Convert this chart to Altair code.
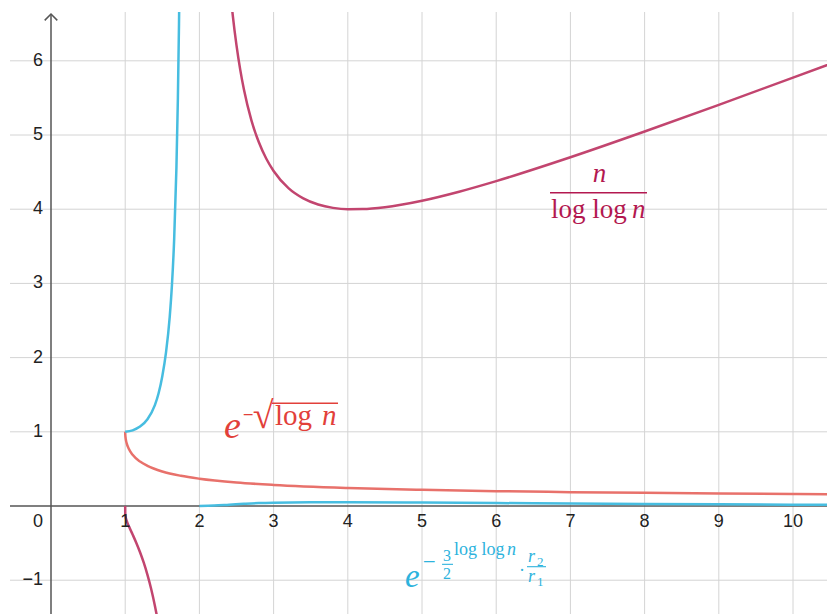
import altair as alt
import pandas as pd

# ---------------- data ----------------
# n / log log n  (two branches)
crim_a_n = [1.0, 1.0001, 1.001, 1.005, 1.02, 1.05, 1.1, 1.15, 1.2, 1.25, 1.3, 1.35, 1.4, 1.45, 1.5]
crim_a_y = [0.0, -0.078, -0.106, -0.141, -0.199, -0.274, -0.384, -0.498, -0.623, -0.764, -0.928,
            -1.118, -1.343, -1.612, -1.939]
crim_b_n = [2.3, 2.35, 2.4, 2.45, 2.5, 2.55, 2.6, 2.7, 2.8, 2.9, 3.0, 3.2, 3.4, 3.6, 3.8, 4.0, 4.2,
            4.5, 5.0, 5.5, 6.0, 7.0, 8.0, 9.0, 10.0, 10.6]
crim_b_y = [8.68, 7.787, 7.12, 6.61, 6.208, 5.881, 5.613, 5.201, 4.905, 4.683, 4.515, 4.284, 4.146,
            4.063, 4.018, 4.0, 4.0015, 4.026, 4.114, 4.236, 4.379, 4.700, 5.047, 5.407, 5.773, 5.995]
# e^{-sqrt(log n)}
red_n = [1.0, 1.0001, 1.001, 1.005, 1.01, 1.02, 1.05, 1.1, 1.2, 1.3, 1.5, 1.75, 2.0, 2.5, 3.0, 4.0,
         5.0, 6.0, 7.0, 8.0, 9.0, 10.0, 10.6]
red_y = [1.0, 0.988, 0.963, 0.919, 0.887, 0.845, 0.767, 0.690, 0.599, 0.541, 0.465, 0.407, 0.368,
         0.317, 0.284, 0.243, 0.218, 0.200, 0.187, 0.177, 0.169, 0.162, 0.158]
# cyan curves
cyan_up_n = [1.0, 1.1, 1.2, 1.3, 1.4, 1.45, 1.5, 1.55, 1.6, 1.63, 1.66, 1.69, 1.71, 1.725, 1.74]
cyan_up_y = [1.0, 1.02, 1.07, 1.17, 1.36, 1.52, 1.75, 2.07, 2.55, 2.98, 3.6, 4.55, 5.5, 6.5, 7.8]
cyan_lo_n = [2.0, 2.2, 2.4, 2.6, 2.8, 3.0, 3.5, 4.0, 5.0, 6.0, 7.0, 8.0, 9.0, 10.0, 10.6]
cyan_lo_y = [0.0, 0.006, 0.018, 0.030, 0.040, 0.045, 0.049, 0.050, 0.046, 0.040, 0.033, 0.027,
             0.022, 0.018, 0.016]

x_ticks = [1, 2, 3, 4, 5, 6, 7, 8, 9, 10]
x_tick_labels = ["1", "2", "3", "4", "5", "6", "7", "8", "9", "10"]
y_ticks = [-1, 1, 2, 3, 4, 5, 6]
y_tick_labels = ["\u22121", "1", "2", "3", "4", "5", "6"]

# ---------------- styling ----------------
CRIM, CRIM_T = "#c2456f", "#b31850"
RED, RED_T = "#e8716b", "#e2403a"
CYAN, CYAN_T = "#47bde0", "#2db3dd"
GRID = "#d4d4d4"
AX = "#555555"
SERIF = "Liberation Serif"
SANS = "Liberation Sans"

xs = alt.Scale(domain=[-0.5526, 10.458], nice=False, zero=False)
ys = alt.Scale(domain=[-1.4555, 6.658], nice=False, zero=False)


def X(f="x"):
    return alt.X(f"{f}:Q", scale=xs, axis=None)


def Y(f="y"):
    return alt.Y(f"{f}:Q", scale=ys, axis=None)


layers = []

# grid
layers.append(alt.Chart(pd.DataFrame({"x": x_ticks})).mark_rule(color=GRID, strokeWidth=1)
              .encode(x=X()))
layers.append(alt.Chart(pd.DataFrame({"y": y_ticks})).mark_rule(color=GRID, strokeWidth=1)
              .encode(y=Y()))

# axes
layers.append(alt.Chart(pd.DataFrame({"x": [-0.6], "x2": [10.7], "y": [0]}))
              .mark_rule(color=AX, strokeWidth=1.5, clip=True)
              .encode(x=X(), x2="x2:Q", y=Y()))
layers.append(alt.Chart(pd.DataFrame({"x": [0], "y": [-1.6], "y2": [6.63]}))
              .mark_rule(color=AX, strokeWidth=1.5, clip=True)
              .encode(x=X(), y=Y(), y2="y2:Q"))
layers.append(alt.Chart(pd.DataFrame({"x": [0], "y": [6.63]}))
              .mark_point(shape="M-1,1L0,0L1,1", filled=False, size=159, color=AX,
                          strokeWidth=1.5, opacity=1)
              .encode(x=X(), y=Y()))


def curve(ns, ys_, color):
    df = pd.DataFrame({"x": ns, "y": ys_})
    return (alt.Chart(df).mark_line(color=color, strokeWidth=2.5, clip=True, interpolate="monotone")
            .encode(x=X(), y=Y(), order="x:Q"))


layers.append(curve(red_n, red_y, RED))
layers.append(curve(cyan_lo_n, cyan_lo_y, CYAN))
layers.append(curve(cyan_up_n, cyan_up_y, CYAN))
layers.append(curve(crim_a_n, crim_a_y, CRIM))
layers.append(curve(crim_b_n, crim_b_y, CRIM))

# tick labels
layers.append(alt.Chart(pd.DataFrame({"x": x_ticks, "y": [0] * len(x_ticks), "t": x_tick_labels}))
              .mark_text(font=SANS, fontSize=18, color="#222222", align="center",
                         baseline="middle", dy=16)
              .encode(x=X(), y=Y(), text="t:N"))
layers.append(alt.Chart(pd.DataFrame({"x": [0] * len(y_ticks), "y": y_ticks, "t": y_tick_labels}))
              .mark_text(font=SANS, fontSize=18, color="#222222", align="right",
                         baseline="middle", dx=-8)
              .encode(x=X(), y=Y(), text="t:N"))
layers.append(alt.Chart(pd.DataFrame({"x": [0], "y": [0], "t": ["0"]}))
              .mark_text(font=SANS, fontSize=18, color="#222222", align="right",
                         baseline="middle", dx=-8, dy=16)
              .encode(x=X(), y=Y(), text="t:N"))


def txt(x, y, s, size, color, italic=False, align="left", font=SERIF):
    df = pd.DataFrame({"x": [x], "y": [y], "t": [s]})
    return (alt.Chart(df).mark_text(font=font, fontSize=size, color=color, align=align,
                                    baseline="alphabetic",
                                    fontStyle="italic" if italic else "normal")
            .encode(x=X(), y=Y(), text="t:N"))


def bar(x1, x2, y, color, w=1.4):
    df = pd.DataFrame({"x": [x1], "x2": [x2], "y": [y]})
    return alt.Chart(df).mark_rule(color=color, strokeWidth=w).encode(x=X(), x2="x2:Q", y=Y())


# n / log log n
layers += [
    txt(7.392, 4.367, "n", 27, CRIM_T, italic=True, align="center"),
    bar(6.725, 8.032, 4.222, CRIM_T),
    txt(6.739, 3.881, "log log", 27, CRIM_T),
    txt(7.830, 3.881, "n", 27, CRIM_T, italic=True),
]

# e^{-sqrt(log n)}
layers += [
    txt(2.332, 0.916, "e", 38, RED_T, italic=True),
    txt(2.58, 1.172, "\u2212", 14, RED_T, font="DejaVu Serif"),
    txt(2.72, 1.051, "\u221a", 38, RED_T),
    txt(3.019, 1.092, "log", 29, RED_T),
    txt(3.652, 1.092, "n", 29, RED_T, italic=True),
    bar(2.978, 3.868, 1.384, RED_T),
]

# e^{-(3/2)^{log log n} . r2/r1}
layers += [
    txt(4.771, -1.092, "e", 33, CYAN_T, italic=True),
    txt(5.0, -0.822, "\u2212", 17, CYAN_T, font="DejaVu Serif"),
    txt(5.337, -0.742, "3", 16, CYAN_T, align="center"),
    bar(5.270, 5.418, -0.786, CYAN_T, 1.1),
    txt(5.337, -0.984, "2", 16, CYAN_T, align="center"),
    txt(5.431, -0.660, "log log", 18, CYAN_T),
    txt(6.146, -0.660, "n", 18, CYAN_T, italic=True),
    txt(6.348, -0.943, "\u00b7", 18, CYAN_T, align="center"),
    txt(6.429, -0.755, "r", 18, CYAN_T, italic=True),
    txt(6.550, -0.809, "2", 13, CYAN_T),
    bar(6.415, 6.671, -0.818, CYAN_T, 1.1),
    txt(6.429, -1.024, "r", 18, CYAN_T, italic=True),
    txt(6.550, -1.078, "1", 13, CYAN_T),
]

chart = (alt.layer(*layers)
         .properties(width=817, height=602,
                     padding={"left": 2, "top": 4, "right": 0, "bottom": 0},
                     autosize=alt.AutoSizeParams(type="none"),
                     background="white")
         .configure_view(stroke=None))

chart.save("out.html", embed_options={"renderer": "svg", "actions": False})
